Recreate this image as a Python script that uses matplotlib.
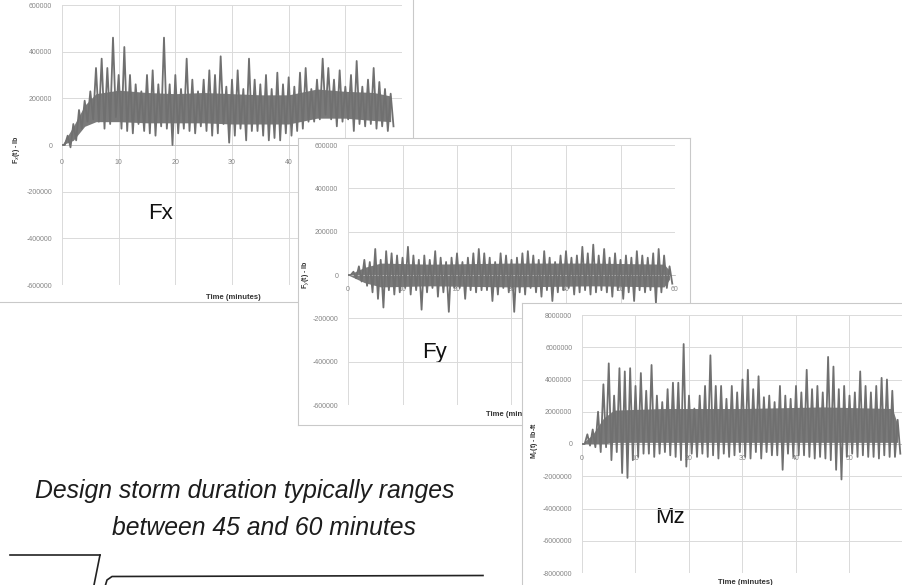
import numpy as np
import matplotlib
matplotlib.use("Agg")
import matplotlib.pyplot as plt
from matplotlib.ticker import MultipleLocator, FuncFormatter

W, H = 903, 585
plt.rcParams['font.family'] = ['Liberation Sans', 'DejaVu Sans']

# ---- data (one hi/lo pair per minute) ----
# Fx, thousands of lb
fx_t = np.arange(59)
fx_hi = [0, 40, 90, 150, 190, 230, 330, 370, 330, 460, 300, 420, 300, 260, 230,
         300, 320, 260, 460, 260, 300, 240, 370, 280, 230, 280, 320, 300, 380, 250,
         280, 320, 240, 370, 280, 260, 300, 240, 310, 260, 290, 250, 310, 330, 240,
         280, 370, 330, 280, 320, 250, 300, 360, 250, 280, 330, 270, 240, 220]
fx_lo = [0, -10, 20, 70, 100, 110, 100, 70, 90, 120, 70, 60, 50, 90, 60,
         50, 40, 80, 70, 0, 50, 70, 60, 50, 80, 60, 40, 50, 90, 10,
         40, 70, 20, 60, 60, 40, 20, 30, 20, 50, 40, 60, 70, 100, 100,
         110, 130, 110, 80, 100, 110, 60, 90, 80, 90, 70, 80, 60, 80]
fx_core_t = [0, 2, 4, 6, 10, 15, 20, 25, 30, 35, 40, 45, 50, 55, 58]
fx_core_lo = [0, 20, 80, 100, 100, 95, 95, 95, 90, 90, 90, 115, 115, 105, 100]
fx_core_hi = [0, 80, 170, 220, 235, 225, 220, 225, 220, 215, 215, 240, 230, 225, 210]

# Fy, thousands of lb
fy_t = np.arange(60)
fy_hi = [0, 15, 40, 70, 60, 120, 70, 110, 100, 90, 80, 130, 90, 70, 90,
         70, 110, 80, 60, 80, 100, 60, 80, 100, 120, 100, 80, 60, 100, 90,
         70, 80, 100, 110, 90, 70, 110, 80, 60, 90, 110, 80, 90, 130, 100,
         140, 90, 120, 80, 100, 70, 90, 80, 110, 90, 80, 100, 120, 90, 40]
fy_lo = [0, -15, -30, -50, -80, -110, -150, -70, -90, -80, -60, -90, -70, -160, -80,
         -60, -100, -80, -170, -60, -60, -110, -70, -80, -70, -70, -120, -90, -60, -80,
         -170, -80, -90, -60, -80, -100, -70, -120, -80, -70, -60, -90, -80, -70, -90,
         -80, -70, -80, -100, -70, -110, -80, -120, -70, -80, -70, -130, -80, -60, -40]
fy_core_t = [0, 3, 6, 15, 30, 45, 58, 59]
fy_core_lo = [0, -35, -55, -50, -55, -50, -55, -20]
fy_core_hi = [0, 35, 55, 50, 55, 55, 50, 20]

# Mz, millions of lb-ft
mz_t = np.arange(60)
mz_hi = [0, 0.6, 0.9, 2.0, 3.7, 5.0, 3.0, 4.7, 4.5, 4.7, 3.6, 4.4, 3.3, 4.9, 3.0,
         2.6, 3.4, 3.8, 3.8, 6.2, 3.0, 2.2, 3.0, 3.6, 5.5, 3.6, 3.6, 2.8, 3.6, 3.2,
         4.0, 4.6, 3.4, 4.2, 2.9, 3.0, 2.6, 3.6, 3.0, 2.8, 3.6, 3.2, 4.6, 3.4, 3.6,
         3.2, 5.4, 4.8, 3.4, 3.6, 3.0, 3.2, 4.5, 3.6, 3.2, 3.6, 4.1, 4.0, 3.3, 1.5]
mz_lo = [0, -0.1, -0.2, -0.5, -0.2, -1.0, -0.5, -1.8, -2.1, -1.0, -0.8, -0.6, -0.6, -0.8, -0.6,
         -0.5, -0.7, -0.8, -1.0, -1.4, -0.6, -0.8, -0.6, -0.8, -0.7, -0.9, -0.6, -0.8, -0.7, -0.5,
         -0.8, -0.9, -0.5, -0.9, -0.5, -0.7, -0.7, -1.6, -0.6, -0.8, -0.7, -0.7, -0.8, -0.9, -0.8,
         -0.9, -1.0, -1.6, -2.2, -0.8, -0.6, -0.8, -0.7, -0.8, -0.8, -0.9, -0.7, -0.8, -0.8, -0.6]
mz_core_t = [0, 2, 4, 6, 15, 30, 45, 58, 59]
mz_core_lo = [0, 0, 0.0, 0.1, 0.1, 0.1, 0.1, 0.1, 0.1]
mz_core_hi = [0, 0.6, 1.6, 2.1, 2.2, 2.2, 2.3, 2.2, 1.2]

caption = ["Design storm duration typically ranges", "between 45 and 60 minutes"]

fig = plt.figure(figsize=(W / 100, H / 100), dpi=100)
fig.patch.set_facecolor('white')


def rect(l, t, r, b):
    return [l / W, 1 - b / H, (r - l) / W, (b - t) / H]


def panel(box, z):
    # white screenshot card, data coords = image pixels
    fr = fig.add_axes(rect(*box), zorder=z)
    fr.set_xlim(box[0], box[2])
    fr.set_ylim(box[3], box[1])
    fr.set_xticks([])
    fr.set_yticks([])
    fr.set_facecolor('white')
    for s in fr.spines.values():
        s.set_color('#c9c9c9')
        s.set_linewidth(0.8)
    return fr


def chart(box, z, t, hi, lo, ct, clo, chi, unit, step, nsteps, pad_x):
    ax = fig.add_axes(rect(*box), zorder=z)
    ax.patch.set_alpha(0)
    ax.set_xlim(0, 60)
    ax.set_ylim(-nsteps * step, nsteps * step)
    ax.xaxis.set_major_locator(MultipleLocator(10))
    ax.yaxis.set_major_locator(MultipleLocator(step))
    ax.grid(True, color='#dadada', lw=0.7)
    for s in ['top', 'right', 'left']:
        ax.spines[s].set_visible(False)
    ax.spines['bottom'].set_position(('data', 0))
    ax.spines['bottom'].set_color('#c0c0c0')
    ax.spines['bottom'].set_linewidth(0.6)
    ax.yaxis.set_major_formatter(FuncFormatter(lambda v, p: '%d' % v))
    ax.tick_params(length=0, labelsize=5, colors='#858585')
    ax.tick_params(axis='y', pad=7)
    ax.tick_params(axis='x', pad=pad_x)
    hi = np.array(hi) * unit
    lo = np.array(lo) * unit
    x = np.empty(2 * len(t))
    y = np.empty(2 * len(t))
    x[0::2], x[1::2] = t, np.asarray(t) + 0.5
    y[0::2], y[1::2] = hi, lo
    ax.fill_between(ct, np.array(clo) * unit, np.array(chi) * unit,
                    color='#7a7a7a', lw=0, zorder=2)
    ax.plot(x, y, color='#707070', lw=1.3, zorder=3)
    return ax


# Fx card
fr1 = panel((-2, -2, 413, 302), 1)
chart((62, 5, 402, 285), 2, fx_t, fx_hi, fx_lo, fx_core_t, fx_core_lo, fx_core_hi,
      1000, 200000, 3, 10)
fr1.text(16, 150, 'F$_{x}$(t) - lb', rotation=90, fontsize=5, fontweight='bold',
         color='#333', ha='center', va='center')
fr1.text(233, 297, 'Time (minutes)', fontsize=5.5, fontweight='bold', color='#333',
         ha='center', va='center')
fr1.text(148, 219, 'Fx', fontsize=16, color='#111')

# Fy card
fr2 = panel((298, 138, 690, 425), 3)
chart((348, 145, 675, 405), 4, fy_t, fy_hi, fy_lo, fy_core_t, fy_core_lo, fy_core_hi,
      1000, 200000, 3, 8)
fr2.text(306, 275, 'F$_{y}$(t) - lb', rotation=90, fontsize=5, fontweight='bold',
         color='#333', ha='center', va='center')
fr2.text(513, 415, 'Time (minutes)', fontsize=5.5, fontweight='bold', color='#333',
         ha='center', va='center')
fr2.text(422, 358, 'Fy', fontsize=16, color='#111')

# Mz card
fr3 = panel((522, 303, 910, 592), 5)
axm = chart((582, 315, 903, 573), 6, mz_t, mz_hi, mz_lo, mz_core_t, mz_core_lo, mz_core_hi,
            1e6, 2000000, 4, 8)
axm.set_xticks([0, 10, 20, 30, 40, 50])
fr3.text(535, 440, 'M$_{z}$(t) - lb-ft', rotation=90, fontsize=5, fontweight='bold',
         color='#333', ha='center', va='center')
fr3.text(745, 583, 'Time (minutes)', fontsize=5.5, fontweight='bold', color='#333',
         ha='center', va='center')
fr3.text(655, 523, 'Mz', fontsize=16, color='#111')

# slide overlay: caption and callout lines
ov = fig.add_axes([0, 0, 1, 1], zorder=10)
ov.patch.set_alpha(0)
ov.set_xlim(0, W)
ov.set_ylim(H, 0)
ov.axis('off')
ov.text(35, 498, caption[0], fontsize=17.8, style='italic', color='#1c1c1c')
ov.text(112, 535, caption[1], fontsize=17.8, style='italic', color='#1c1c1c')
ov.plot([10, 100], [555, 555], color='#222', lw=1.2)
ov.plot([100, 93], [555, 590], color='#222', lw=1.2)
ov.plot([104, 107, 112, 483], [590, 580, 576.5, 575.5], color='#222', lw=1.2)

fig.savefig('out.png', dpi=100)
